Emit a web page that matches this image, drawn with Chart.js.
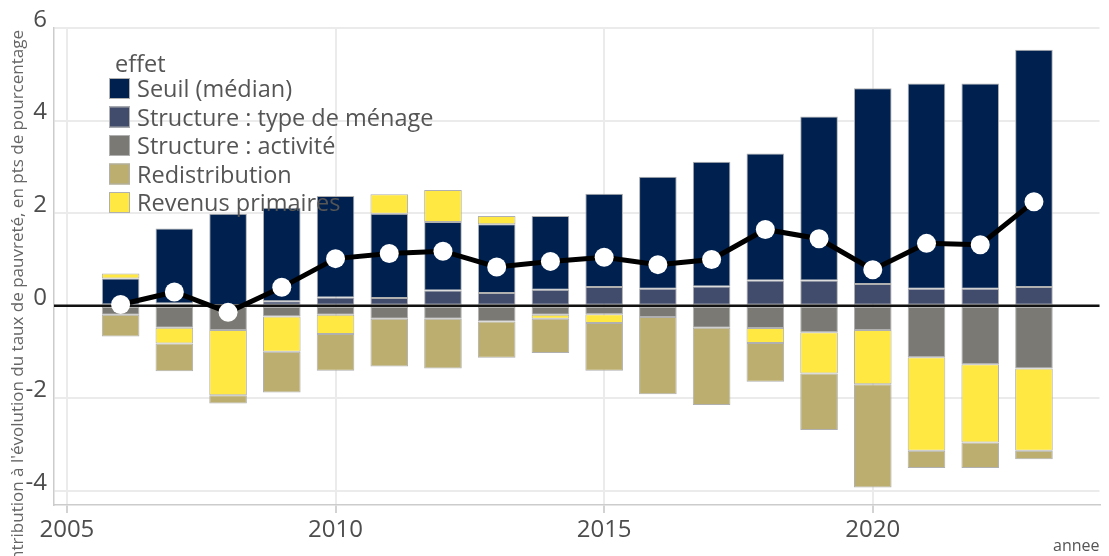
<!DOCTYPE html>
<html>
<head>
<meta charset="utf-8">
<script src="https://cdn.jsdelivr.net/npm/chart.js@4.4.1/dist/chart.umd.min.js"></script>
<style>
  html, body { margin: 0; padding: 0; background: #fff; }
  #wrap { width: 1109px; height: 556px; position: relative; }
</style>
</head>
<body>
<div id="wrap"><canvas id="chart"></canvas></div>
<script>
const years = [2006, 2007, 2008, 2009, 2010, 2011, 2012, 2013, 2014, 2015, 2016, 2017, 2018, 2019, 2020, 2021, 2022, 2023];

const seuil            = [0.56, 1.62, 1.97, 2.02, 2.19, 1.82, 1.48, 1.48, 1.59, 2.01, 2.42, 2.69, 2.74, 3.54, 4.23, 4.43, 4.43, 5.12];
const structMenage     = [0.03, 0.05, 0.02, 0.10, 0.18, 0.17, 0.33, 0.28, 0.35, 0.41, 0.37, 0.42, 0.55, 0.55, 0.47, 0.37, 0.37, 0.41];
const structActivite   = [-0.19, -0.47, -0.52, -0.23, -0.19, -0.28, -0.28, -0.34, -0.19, -0.18, -0.24, -0.47, -0.48, -0.57, -0.52, -1.11, -1.26, -1.35];
const redistribution   = [-0.47, -0.60, -0.18, -0.88, -0.79, -1.03, -1.07, -0.78, -0.74, -1.03, -1.67, -1.67, -0.84, -1.22, -2.23, -0.37, -0.55, -0.18];
const revenusPrimaires = [0.11, -0.34, -1.41, -0.76, -0.42, 0.42, 0.69, 0.18, -0.09, -0.19, null, null, -0.32, -0.89, -1.17, -2.02, -1.69, -1.78];
const total            = [0.03, 0.30, -0.14, 0.40, 1.02, 1.13, 1.18, 0.84, 0.96, 1.05, 0.89, 1.00, 1.65, 1.45, 0.78, 1.35, 1.32, 2.25];

const xTicks = [2005, 2010, 2015, 2020];
const yTicks = [-4, -2, 0, 2, 4, 6];

const legendNames = ['Seuil (médian)', 'Structure : type de ménage', 'Structure : activité', 'Redistribution', 'Revenus primaires'];
const colors = {
  'Seuil (médian)': '#00214f',
  'Structure : type de ménage': '#414b6b',
  'Structure : activité': '#7a7973',
  'Redistribution': '#bcae6e',
  'Revenus primaires': '#ffe842'
};

const yTitle = "Contribution à l'évolution du taux de pauvreté, en pts de pourcentage";
const textGrey = '#555';

const toPoints = arr => years.map((x, i) => ({ x: x, y: arr[i] }));

const barDs = (label, arr) => ({
  type: 'bar',
  label: label,
  data: toPoints(arr),
  backgroundColor: colors[label],
  borderColor: '#b0b0b0',
  borderWidth: 1,
  borderSkipped: false,
  barPercentage: 0.7,
  categoryPercentage: 1.0,
  order: 1
});

// legend sits inside the plot, top left
const insideLegend = {
  id: 'insideLegend',
  afterDatasetsDraw(chart) {
    const ctx = chart.ctx;
    ctx.save();
    ctx.font = '23.5px "Open Sans"';
    ctx.textBaseline = 'alphabetic';
    ctx.fillStyle = textGrey;
    ctx.fillText('effet', 115, 72);
    legendNames.forEach((name, i) => {
      const cy = 88 + i * 28.5;
      ctx.fillStyle = colors[name];
      ctx.fillRect(109, cy - 10, 21, 21);
      ctx.strokeStyle = '#b0b0b0';
      ctx.lineWidth = 1;
      ctx.strokeRect(109.5, cy - 9.5, 20, 20);
      ctx.fillStyle = textGrey;
      ctx.fillText(name, 137, cy + 9);
    });
    ctx.restore();
  }
};

// black zero line drawn over the bars, under the total line
const zeroLine = {
  id: 'zeroLine',
  beforeDatasetDraw(chart, args) {
    if (args.meta.type !== 'line') return;
    const ctx = chart.ctx;
    const y = chart.scales.y.getPixelForValue(0);
    ctx.save();
    ctx.strokeStyle = '#111';
    ctx.lineWidth = 2.5;
    ctx.beginPath();
    ctx.moveTo(chart.chartArea.left, y);
    ctx.lineTo(chart.chartArea.right, y);
    ctx.stroke();
    ctx.restore();
  }
};

// y title, cut at the bottom like the original
const yTitlePlugin = {
  id: 'yTitlePlugin',
  afterDraw(chart) {
    const ctx = chart.ctx;
    ctx.save();
    ctx.font = '17px "Open Sans"';
    ctx.fillStyle = '#666';
    ctx.translate(23, 30);
    ctx.rotate(-Math.PI / 2);
    ctx.textAlign = 'right';
    ctx.textBaseline = 'alphabetic';
    ctx.fillText(yTitle, 0, 0);
    ctx.restore();
  }
};

new Chart(document.getElementById('chart'), {
  data: {
    datasets: [
      {
        type: 'line',
        label: 'total',
        data: toPoints(total),
        borderColor: '#000',
        borderWidth: 5,
        pointRadius: 9.5,
        pointBackgroundColor: '#fff',
        pointBorderColor: '#fff',
        pointBorderWidth: 0,
        tension: 0,
        stack: 'total',
        order: 0
      },
      barDs('Structure : type de ménage', structMenage),
      barDs('Structure : activité', structActivite),
      barDs('Seuil (médian)', seuil),
      barDs('Revenus primaires', revenusPrimaires),
      barDs('Redistribution', redistribution)
    ]
  },
  options: {
    responsive: true,
    maintainAspectRatio: false,
    animation: false,
    events: [],
    layout: { padding: { top: 28, right: 0, bottom: 0, left: 0 } },
    plugins: {
      legend: { display: false },
      tooltip: { enabled: false }
    },
    scales: {
      x: {
        type: 'linear',
        stacked: true,
        offset: false,
        min: 2004.76,
        max: 2024.22,
        afterBuildTicks: s => { s.ticks = xTicks.map(v => ({ value: v })); },
        afterFit: s => { s.height = 51; },
        ticks: {
          callback: v => String(v),
          color: '#4d4d4d',
          font: { family: 'Open Sans', size: 24 },
          padding: 3,
          maxRotation: 0
        },
        grid: {
          offset: false,
          color: '#ebebeb',
          lineWidth: 2,
          drawTicks: true,
          tickLength: 8,
          tickColor: '#c4c4c4',
          tickWidth: 1.5
        },
        border: { display: true, color: '#cccccc', width: 1.5 },
        title: {
          display: true,
          text: 'annee',
          align: 'end',
          color: textGrey,
          font: { family: 'Open Sans', size: 16 },
          padding: 0
        }
      },
      y: {
        stacked: true,
        min: -4.3,
        max: 6,
        afterBuildTicks: s => { s.ticks = yTicks.map(v => ({ value: v })); },
        afterFit: s => { s.width = 54; },
        ticks: {
          callback: v => String(v),
          color: '#4d4d4d',
          font: { family: 'Open Sans', size: 24 },
          padding: 7,
          labelOffset: -8
        },
        grid: {
          color: '#ebebeb',
          lineWidth: 2,
          drawTicks: false
        },
        border: { display: true, color: '#cccccc', width: 1.5 }
      }
    }
  },
  plugins: [insideLegend, zeroLine, yTitlePlugin]
});
</script>
</body>
</html>
